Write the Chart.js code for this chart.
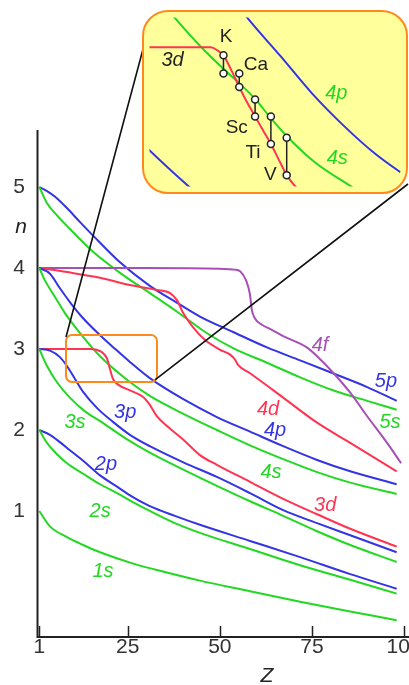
<!DOCTYPE html>
<html>
<head>
<meta charset="utf-8">
<script src="https://cdn.jsdelivr.net/npm/chart.js@4.4.1/dist/chart.umd.min.js"></script>
<style>
  html, body { margin: 0; padding: 0; background: #fff; }
  #wrap { position: relative; width: 409px; height: 685px; overflow: hidden; }
  #mainChart { position: absolute; left: 0; top: 0; }
  #inset {
    position: absolute; left: 142px; top: 10px; width: 266px; height: 184px;
    box-sizing: border-box; border: 2px solid #ff8a1c; border-radius: 26px;
    background: #ffff9c; overflow: hidden;
  }
  #insetChart { display: block; }
</style>
</head>
<body>
<div id="wrap">
  <canvas id="mainChart" width="409" height="685"></canvas>
  <div id="inset"><canvas id="insetChart" width="262" height="180"></canvas></div>
</div>
<script>
// axis ticks
const zTicks = [1, 25, 50, 75, 100];
const nTicks = [1, 2, 3, 4, 5];

// orbital curves as [Z, n] pairs
const s1 = [[1,1.0],[3.9,0.81],[8.4,0.68],[12.9,0.58],[17.5,0.49],[26.5,0.35],[35.6,0.24],[44.6,0.14],[58.2,0.01],[71.8,-0.12],[85.4,-0.24],[98,-0.35]];
const s2 = [[1,2.0],[3.1,1.84],[5.8,1.70],[8.5,1.59],[12.9,1.46],[17.5,1.33],[22.1,1.22],[26.4,1.11],[31,1.00],[37.8,0.85],[44.6,0.73],[58.2,0.53],[71.8,0.33],[85.4,0.15],[98,-0.02]];
const p2 = [[1,2.0],[3.9,1.94],[6.6,1.85],[9.3,1.75],[12.9,1.62],[17.5,1.44],[22.1,1.30],[26.4,1.17],[31,1.06],[37.8,0.94],[44.6,0.83],[58.2,0.63],[71.8,0.43],[85.4,0.22],[98,0.04]];
const s3 = [[1,3.0],[3.1,2.79],[5.8,2.59],[9.3,2.40],[13.4,2.23],[17.5,2.11],[24.3,1.90],[31,1.72],[40.1,1.51],[49.2,1.31],[58.2,1.12],[67.2,0.94],[76.4,0.75],[85.4,0.58],[98,0.37]];
const p3 = [[1,3.0],[3.9,2.98],[6.6,2.90],[8.5,2.79],[10.7,2.63],[12.9,2.47],[16.7,2.27],[21,2.10],[25.6,1.94],[31,1.80],[40.1,1.60],[49.2,1.42],[58.2,1.22],[67.2,1.01],[76.4,0.85],[85.4,0.70],[98,0.49]];
const d3 = [[1,3.0],[7.4,3.0],[14.8,3.0],[16.5,2.99],[18,2.96],[19.4,2.88],[20.2,2.75],[21,2.63],[22.4,2.56],[25.6,2.49],[29.1,2.41],[31,2.31],[32.9,2.17],[35.9,2.04],[40.1,1.88],[44.6,1.69],[49.2,1.57],[58.2,1.36],[67.2,1.15],[76.4,0.96],[85.4,0.78],[98,0.56]];
const s4 = [[1,4.0],[2.5,3.85],[5.3,3.64],[8,3.44],[12,3.20],[17.5,2.91],[24.8,2.62],[31,2.42],[40.1,2.20],[49.2,2.00],[58.2,1.81],[67.2,1.64],[76.4,1.48],[85.4,1.35],[98,1.21]];
const p4 = [[1,4.0],[3.9,3.93],[6.6,3.75],[9.3,3.58],[12.9,3.38],[17.5,3.17],[21.6,3.00],[25.6,2.84],[31,2.64],[40.1,2.38],[49.2,2.16],[58.2,1.98],[67.2,1.80],[76.4,1.63],[85.4,1.49],[98,1.33]];
const d4 = [[1,4.0],[8.5,3.95],[17.5,3.88],[25.6,3.79],[32.9,3.73],[36.5,3.69],[38.4,3.60],[40.1,3.44],[42.7,3.27],[46,3.11],[50.1,2.99],[52.8,2.93],[54.1,2.87],[55,2.80],[58.2,2.70],[67.2,2.40],[76.4,2.09],[85.4,1.84],[98,1.49]];
const f4 = [[1,4.0],[30,4.0],[50,3.99],[54,3.98],[55.5,3.96],[57.1,3.85],[58.2,3.67],[58.7,3.48],[59.5,3.38],[61.4,3.30],[64,3.24],[67.2,3.16],[73.6,3.02],[76.4,2.91],[80.7,2.71],[85.4,2.46],[90,2.17],[95.4,1.84],[99.2,1.59]];
const s5 = [[1,5.0],[3.1,4.80],[5.8,4.65],[8.5,4.52],[15.6,4.20],[22.9,3.94],[31,3.69],[38.4,3.46],[46,3.21],[53.6,3.01],[62.8,2.83],[71.8,2.65],[80.7,2.49],[90,2.36],[98,2.25]];
const p5 = [[1,5.0],[3.1,4.95],[5.3,4.88],[8.5,4.74],[12,4.57],[15.6,4.40],[22.9,4.07],[31,3.78],[38.4,3.57],[44.6,3.40],[53.6,3.21],[62.8,3.02],[71.8,2.86],[80.7,2.70],[90,2.53],[98,2.36]];

// curve captions: text, Z, n
const captions = [
  ['5p', 95.1, 2.60], ['5s', 96.2, 2.09], ['4f', 77.2, 3.05], ['4d', 63.1, 2.25],
  ['4p', 65.0, 2.00], ['4s', 63.9, 1.47], ['3d', 78.6, 1.07], ['3p', 24.3, 2.22],
  ['3s', 10.7, 2.09], ['2p', 19.1, 1.58], ['2s', 17.5, 1.00], ['1s', 18.3, 0.25]
];

// region blown up in the inset (Z range, n range)
const zoomZ = [8.25, 32.95];
const zoomN = [2.593, 3.173];

// inset curves
const in3d = [[13,3.0],[18.2,3.0],[18.6,2.99],[19,2.972],[19.5,2.92],[20,2.862],[20.5,2.808],[21,2.76],[21.5,2.712],[22,2.664],[22.5,2.61],[23,2.556],[23.6,2.513],[24.2,2.48]];
const in4s = [[15.2,3.15],[15.8,3.11],[17.6,3.0],[19.1,2.92],[20.1,2.87],[21.1,2.815],[21.9,2.76],[23.1,2.686],[24.8,2.6],[27.2,2.512],[27.8,2.49]];
const in4p = [[20.0,3.14],[20.4,3.11],[22.6,2.97],[24.6,2.84],[26.6,2.728],[28.6,2.63],[30.2,2.566],[30.8,2.545]];
const in3p = [[13.5,2.686],[14.2,2.648],[16.9,2.512],[17.4,2.49]];

// inset level pairs
const elements = ['K', 'Ca', 'Sc', 'Ti', 'V'];
const elemZ = [19, 20, 21, 22, 23];
const elemHi = [2.972, 2.909, 2.819, 2.760, 2.686];
const elemLo = [2.909, 2.862, 2.760, 2.664, 2.556];
const elemLabelPos = [[19.17,3.035],[21.05,2.94],[19.84,2.719],[20.87,2.634],[21.96,2.556]];
const insetCaptions = [['3d', 15.78, 2.953, '#222'], ['4p', 26.14, 2.839, 'green'], ['4s', 26.2, 2.614, 'green']];

const GREEN = '#22d822', BLUE = '#3434e4', RED = '#ff3452', PURPLE = '#a64fb4';
const FONT = '"Liberation Sans", Arial, sans-serif';

const colorFor = name => ({ s: GREEN, p: BLUE, d: RED, f: PURPLE })[name[1]];

const orbitals = [
  ['1s', s1], ['2s', s2], ['2p', p2], ['3s', s3], ['3p', p3], ['3d', d3],
  ['4s', s4], ['4p', p4], ['4d', d4], ['4f', f4], ['5s', s5], ['5p', p5]
];

const toXY = pts => pts.map(([x, y]) => ({ x, y }));

const decor = {
  id: 'decor',
  afterDatasetsDraw(chart) {
    const { ctx, chartArea: a, scales: { x, y } } = chart;
    ctx.save();

    // zoomed region
    const bx0 = x.getPixelForValue(zoomZ[0]), bx1 = x.getPixelForValue(zoomZ[1]);
    const by0 = y.getPixelForValue(zoomN[1]), by1 = y.getPixelForValue(zoomN[0]);
    ctx.strokeStyle = '#ff8a1c';
    ctx.lineWidth = 2;
    ctx.beginPath();
    ctx.roundRect(bx0, by0, bx1 - bx0, by1 - by0, 6);
    ctx.stroke();

    // connectors to the inset
    const box = document.getElementById('inset');
    const iL = box.offsetLeft, iT = box.offsetTop;
    const iR = iL + box.offsetWidth, iB = iT + box.offsetHeight;
    ctx.strokeStyle = '#111';
    ctx.lineWidth = 1.6;
    ctx.beginPath();
    ctx.moveTo(bx0, by0 + 2);
    ctx.lineTo(iL + 4, iT + 28);
    ctx.moveTo(bx1 - 2, by1 - 2);
    ctx.lineTo(iR, iB - 10);
    ctx.stroke();

    // curve captions
    ctx.font = 'italic 20px ' + FONT;
    ctx.textAlign = 'center';
    ctx.textBaseline = 'middle';
    captions.forEach(([t, z, n]) => {
      ctx.fillStyle = colorFor(t);
      ctx.fillText(t, x.getPixelForValue(z), y.getPixelForValue(n));
    });

    // axes
    ctx.strokeStyle = '#222';
    ctx.lineWidth = 2;
    ctx.beginPath();
    ctx.moveTo(a.left - 0.5, a.top);
    ctx.lineTo(a.left - 0.5, a.bottom);
    ctx.lineTo(a.right, a.bottom);
    ctx.stroke();
    ctx.lineWidth = 1.5;
    ctx.beginPath();
    zTicks.forEach(v => {
      const px = Math.round(x.getPixelForValue(v)) + 0.5;
      ctx.moveTo(px, a.bottom);
      ctx.lineTo(px, a.bottom - 11);
    });
    ctx.stroke();

    // axis titles
    ctx.fillStyle = '#222';
    ctx.font = 'italic 21px ' + FONT;
    ctx.fillText('n', 21, y.getPixelForValue(4.5));
    ctx.fillText('Z', x.getPixelForValue(62.8), 676);
    ctx.restore();
  }
};

new Chart(document.getElementById('mainChart'), {
  type: 'scatter',
  data: {
    datasets: orbitals.map(([name, pts]) => ({
      label: name,
      data: toXY(pts),
      showLine: true,
      borderColor: colorFor(name),
      borderWidth: 2,
      pointRadius: 0,
      cubicInterpolationMode: 'monotone'
    }))
  },
  options: {
    responsive: false,
    animation: false,
    events: [],
    layout: { padding: { top: 130, left: 0, right: 0, bottom: 0 } },
    scales: {
      x: {
        type: 'linear', min: 0.65, max: 101.35,
        grid: { display: false }, border: { display: false },
        afterBuildTicks: s => { s.ticks = zTicks.map(v => ({ value: v })); },
        ticks: { autoSkip: false, maxRotation: 0, padding: -10, color: '#333', font: { family: FONT, size: 21 } },
        afterFit: s => { s.height = 48; s.paddingLeft = 0; s.paddingRight = 0; }
      },
      y: {
        type: 'linear', min: -0.556, max: 5.704,
        grid: { display: false }, border: { display: false },
        afterBuildTicks: s => { s.ticks = nTicks.map(v => ({ value: v })); },
        ticks: { autoSkip: false, padding: 5, color: '#333', font: { family: FONT, size: 21 } },
        afterFit: s => { s.width = 38; s.paddingTop = 0; s.paddingBottom = 0; }
      }
    },
    plugins: { legend: { display: false }, tooltip: { enabled: false } }
  },
  plugins: [decor]
});

// inset: 3d / 4s crossing for K..V
const insetText = {
  id: 'insetText',
  afterDatasetsDraw(chart) {
    const { ctx, scales: { x, y } } = chart;
    ctx.save();
    ctx.textAlign = 'center';
    ctx.textBaseline = 'middle';
    ctx.font = 'italic 20px ' + FONT;
    insetCaptions.forEach(([t, z, n, c]) => {
      ctx.fillStyle = c === 'green' ? GREEN : c;
      ctx.fillText(t, x.getPixelForValue(z), y.getPixelForValue(n));
    });
    ctx.font = '19px ' + FONT;
    ctx.fillStyle = '#222';
    elements.forEach((el, i) => {
      ctx.fillText(el, x.getPixelForValue(elemLabelPos[i][0]), y.getPixelForValue(elemLabelPos[i][1]));
    });
    ctx.restore();
  }
};

const insetLine = (pts, color) => ({
  data: toXY(pts), showLine: true, borderColor: color, borderWidth: 2,
  pointRadius: 0, cubicInterpolationMode: 'monotone'
});

new Chart(document.getElementById('insetChart'), {
  type: 'scatter',
  data: {
    datasets: [
      ...elements.map((el, i) => ({
        label: el,
        data: [{ x: elemZ[i], y: elemHi[i] }, { x: elemZ[i], y: elemLo[i] }],
        showLine: true, borderColor: '#222', borderWidth: 1.5,
        pointRadius: 3.5, pointBackgroundColor: '#fff', pointBorderColor: '#222', pointBorderWidth: 1.5
      })),
      insetLine(in3d, RED),
      insetLine(in4s, GREEN),
      insetLine(in4p, BLUE),
      insetLine(in3p, BLUE)
    ]
  },
  options: {
    responsive: false,
    animation: false,
    events: [],
    layout: { padding: 0 },
    scales: {
      x: { type: 'linear', display: false, min: 14.32, max: 30.2 },
      y: { type: 'linear', display: false, min: 2.5165, max: 3.1035 }
    },
    plugins: { legend: { display: false }, tooltip: { enabled: false } }
  },
  plugins: [insetText]
});
</script>
</body>
</html>
